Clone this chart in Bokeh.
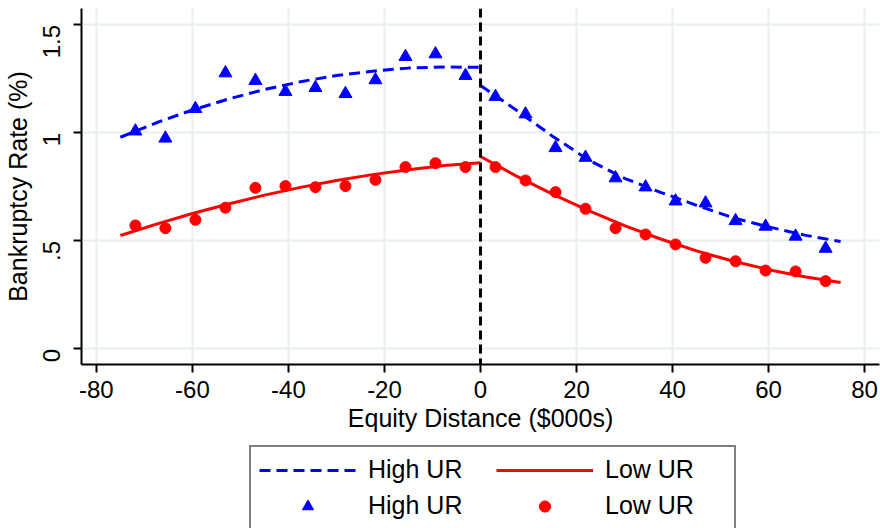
import math
from bokeh.plotting import figure
from bokeh.layouts import column
from bokeh.models import Range1d, Span, Legend, LegendItem, FixedTicker
from bokeh.embed import file_html
from bokeh.resources import INLINE

# ---- data ----
bin_x = [-71.875, -65.625, -59.375, -53.125, -46.875, -40.625, -34.375, -28.125,
         -21.875, -15.625, -9.375, -3.125, 3.125, 9.375, 15.625, 21.875,
         28.125, 34.375, 40.625, 46.875, 53.125, 59.375, 65.625, 71.875]
high_ur = [1.008, 0.975, 1.112, 1.277, 1.242, 1.191, 1.209, 1.181,
           1.245, 1.353, 1.365, 1.265, 1.168, 1.087, 0.931, 0.886,
           0.791, 0.749, 0.684, 0.675, 0.593, 0.567, 0.521, 0.465]
low_ur = [0.572, 0.559, 0.598, 0.654, 0.746, 0.754, 0.749, 0.754,
          0.783, 0.842, 0.860, 0.842, 0.842, 0.780, 0.726, 0.649,
          0.559, 0.530, 0.484, 0.422, 0.406, 0.363, 0.359, 0.314]

fit_x_left = [-75, -67.5, -60, -52.5, -45, -37.5, -30, -22.5, -15, -7.5, 0]
fit_x_right = [0, 7.5, 15, 22.5, 30, 37.5, 45, 52.5, 60, 67.5, 75]
high_fit_left = [0.980, 1.047, 1.106, 1.157, 1.201, 1.237, 1.266, 1.286, 1.300, 1.305, 1.304]
high_fit_right = [1.220, 1.105, 0.985, 0.875, 0.790, 0.725, 0.665, 0.608, 0.565, 0.527, 0.497]
low_fit_left = [0.525, 0.578, 0.627, 0.671, 0.712, 0.748, 0.780, 0.807, 0.830, 0.849, 0.862]
low_fit_right = [0.891, 0.800, 0.717, 0.640, 0.571, 0.509, 0.454, 0.407, 0.367, 0.334, 0.308]

x_ticks = [-80, -60, -40, -20, 0, 20, 40, 60, 80]
x_tick_labels = ["-80", "-60", "-40", "-20", "0", "20", "40", "60", "80"]
y_ticks = [0, 0.5, 1, 1.5]
y_tick_labels = ["0", ".5", "1", "1.5"]
series_labels = ["High UR", "Low UR"]

BLUE = "#0000ff"
RED = "#ff0000"
FONT = "Liberation Sans"
GRID = "#e8eff1"
DASH = "11 6"


def draw_series(fig):
    """Draw the four fitted segments and the two binned scatters on fig."""
    hl = fig.line(fit_x_left, high_fit_left, line_color=BLUE, line_width=3, line_dash=DASH)
    fig.line(fit_x_right, high_fit_right, line_color=BLUE, line_width=3, line_dash=DASH)
    ll = fig.line(fit_x_left, low_fit_left, line_color=RED, line_width=3)
    fig.line(fit_x_right, low_fit_right, line_color=RED, line_width=3)
    hm = fig.scatter(bin_x, high_ur, marker="triangle", size=13, color=BLUE)
    lm = fig.scatter(bin_x, low_ur, marker="circle", size=11, color=RED)
    return hl, ll, hm, lm


# ---- main chart ----
p = figure(width=880, height=440, output_backend="svg", toolbar_location=None,
           x_range=Range1d(-83.1, 83.1), y_range=Range1d(-0.072, 1.576),
           min_border_left=81, min_border_right=1, min_border_top=8,
           min_border_bottom=76)
p.outline_line_color = None
p.background_fill_color = "white"
p.border_fill_color = "white"

for g in (p.xgrid, p.ygrid):
    g.grid_line_color = GRID
    g.grid_line_width = 2
p.xgrid.ticker = FixedTicker(ticks=x_ticks)
p.ygrid.ticker = FixedTicker(ticks=y_ticks)

for ax in (p.xaxis[0], p.yaxis[0]):
    ax.axis_line_color = "black"
    ax.axis_line_width = 2
    ax.major_tick_line_color = "black"
    ax.major_tick_line_width = 2
    ax.major_tick_in = 0
    ax.major_tick_out = 8
    ax.minor_tick_line_color = None
    ax.major_label_text_font = FONT
    ax.major_label_text_font_size = "24px"
    ax.major_label_text_color = "black"
    ax.axis_label_text_font = FONT
    ax.axis_label_text_font_size = "25px"
    ax.axis_label_text_font_style = "normal"
    ax.axis_label_text_color = "black"

p.xaxis.ticker = FixedTicker(ticks=x_ticks)
p.xaxis.major_label_overrides = dict(zip(x_ticks, x_tick_labels))
p.xaxis.axis_label = "Equity Distance ($000s)"
p.xaxis.major_label_standoff = 8
p.xaxis.axis_label_standoff = 3

p.yaxis.ticker = FixedTicker(ticks=y_ticks)
p.yaxis.major_label_overrides = dict(zip(y_ticks, y_tick_labels))
p.yaxis.major_label_orientation = math.pi / 2
p.yaxis.axis_label = "Bankruptcy Rate (%)"
p.yaxis.major_label_standoff = 22
p.yaxis.axis_label_standoff = 0

p.add_layout(Span(location=0, dimension="height", line_color="black",
                  line_width=3, line_dash="9 5"))

draw_series(p)

# ---- legend strip below the chart (series drawn out of view, only the key shows) ----
q = figure(width=880, height=88, output_backend="svg", toolbar_location=None,
           x_range=Range1d(-83.1, 83.1), y_range=Range1d(10, 11),
           x_axis_location=None, y_axis_location=None, min_border=0)
q.outline_line_color = None
q.xgrid.visible = False
q.ygrid.visible = False

k_hl, k_ll, k_hm, k_lm = draw_series(q)

legend = Legend(items=[
    LegendItem(label=series_labels[0], renderers=[k_hl]),
    LegendItem(label=series_labels[1], renderers=[k_ll]),
    LegendItem(label=series_labels[0], renderers=[k_hm]),
    LegendItem(label=series_labels[1], renderers=[k_lm]),
], orientation="horizontal", ncols=2)
legend.glyph_width = 97
legend.glyph_height = 28
legend.label_standoff = 12
legend.label_width = 121
legend.spacing = 7
legend.padding = 8
legend.margin = 0
legend.location = (168, -2)
legend.border_line_color = "black"
legend.border_line_width = 2
legend.label_text_font = FONT
legend.label_text_font_size = "25px"
legend.label_text_color = "black"
legend.background_fill_color = "white"
legend.background_fill_alpha = 1
q.add_layout(legend)

open("out.html", "w").write(file_html(column(p, q, spacing=0), INLINE))
